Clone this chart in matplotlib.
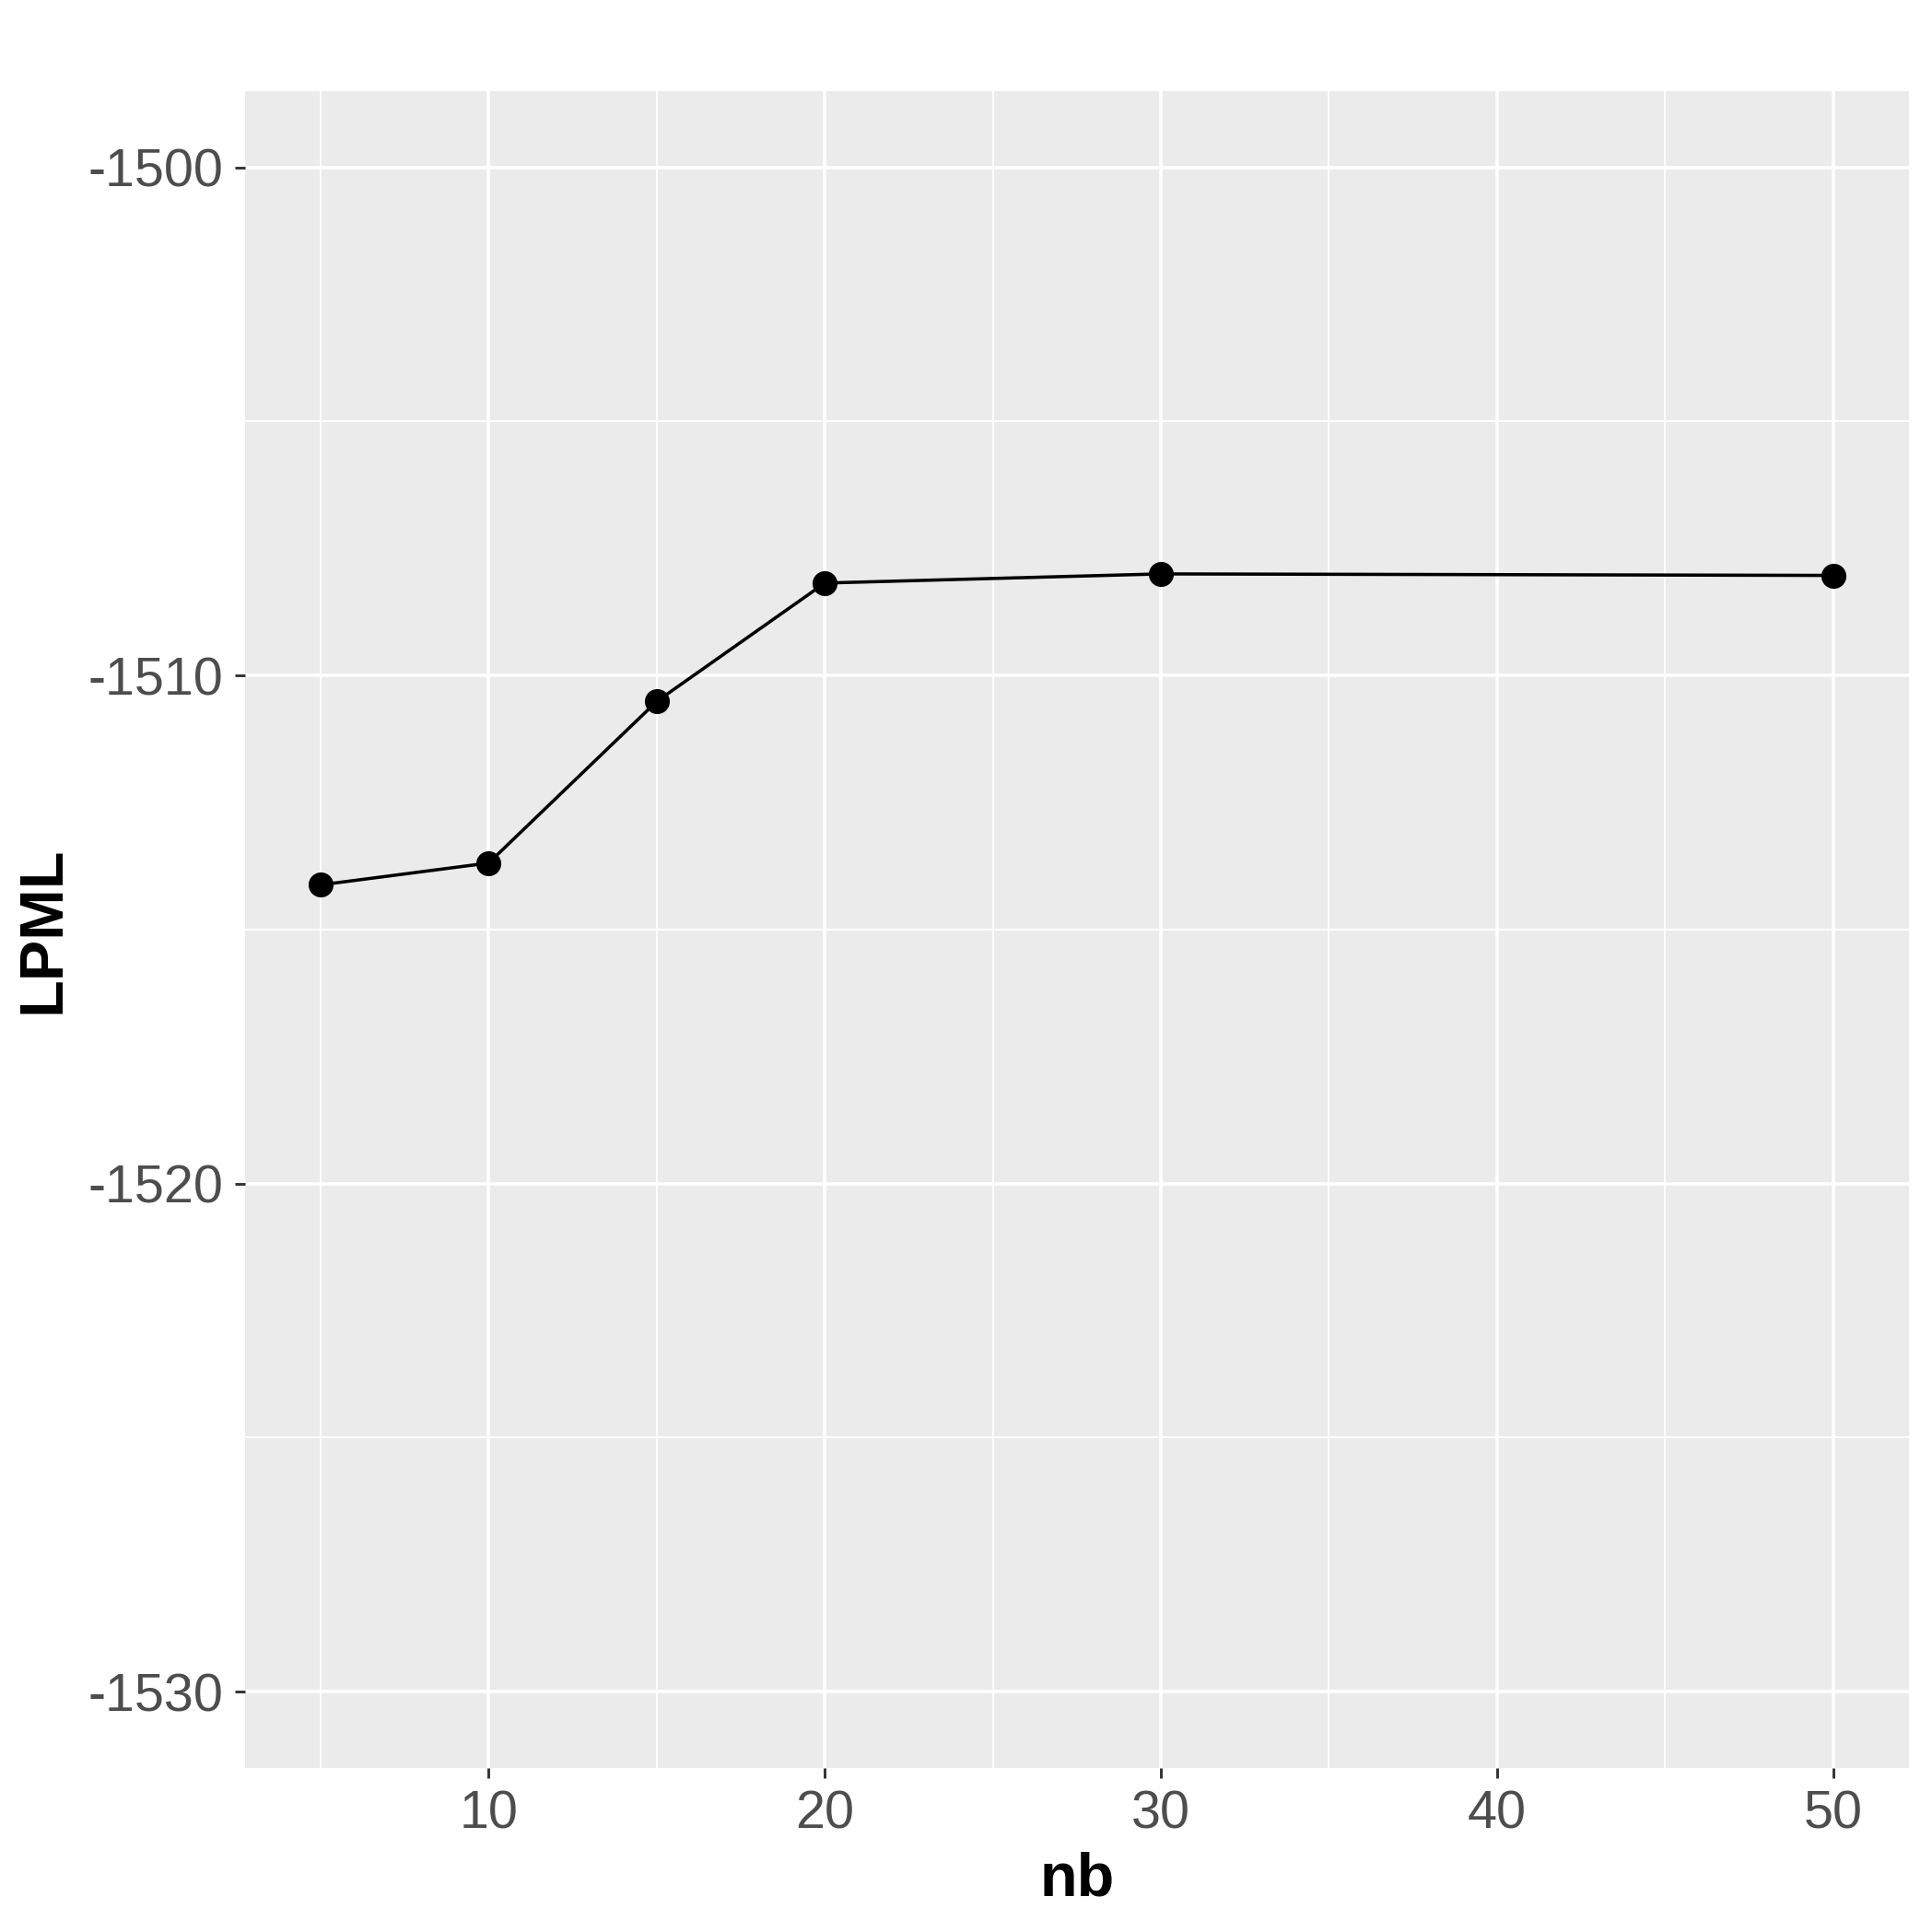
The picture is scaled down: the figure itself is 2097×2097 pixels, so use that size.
"""LPML against nb, drawn in the ggplot grey theme."""

import matplotlib

matplotlib.use("Agg")
import matplotlib.pyplot as plt
from matplotlib.ticker import FixedLocator

nb = [5, 10, 15, 20, 30, 50]
lpml = [-1514.12, -1513.69, -1510.51, -1508.18, -1508.00, -1508.03]

x_major = [10, 20, 30, 40, 50]
x_minor = [5, 15, 25, 35, 45]
y_major = [-1530, -1520, -1510, -1500]
y_minor = [-1525, -1515, -1505]

plt.rcParams["font.family"] = ["Liberation Sans", "DejaVu Sans"]
plt.rcParams["axes.unicode_minus"] = False

fig = plt.figure(figsize=(6.99, 6.99), dpi=300)
ax = fig.add_axes([0.1268, 0.0849, 0.988 - 0.1268, 0.9528 - 0.0849])
ax.set_facecolor("#EBEBEB")
for spine in ax.spines.values():
    spine.set_visible(False)

ax.set_xlim(2.75, 52.25)
ax.set_ylim(-1531.5, -1498.5)
ax.xaxis.set_major_locator(FixedLocator(x_major))
ax.xaxis.set_minor_locator(FixedLocator(x_minor))
ax.yaxis.set_major_locator(FixedLocator(y_major))
ax.yaxis.set_minor_locator(FixedLocator(y_minor))

ax.grid(which="major", color="white", linewidth=0.85)
ax.grid(which="minor", color="white", linewidth=0.45)
ax.set_axisbelow(True)

ax.tick_params(which="major", length=2.7, width=0.7, color="#333333",
               labelsize=13.8, labelcolor="#4D4D4D", pad=3.0)
ax.tick_params(which="minor", length=0)

ax.plot(nb, lpml, color="black", linewidth=0.85, marker="o", markersize=5.5,
        zorder=3)

ax.set_xlabel("nb", fontsize=16, fontweight="bold", labelpad=3)
ax.set_ylabel("LPML", fontsize=16, fontweight="bold")
ax.yaxis.set_label_coords(-0.104, 0.5)

fig.savefig("out.png", dpi=300)
